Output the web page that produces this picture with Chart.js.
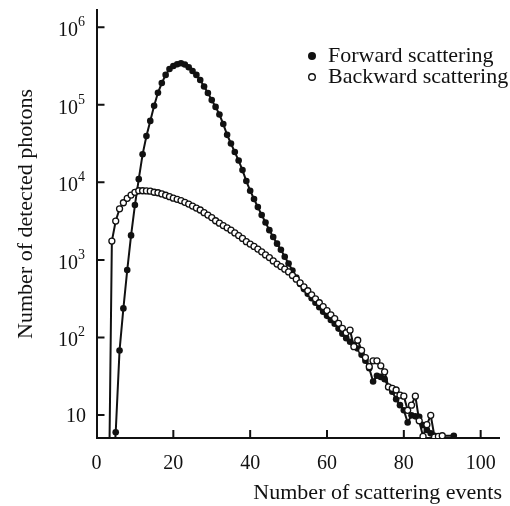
<!DOCTYPE html>
<html>
<head>
<meta charset="utf-8">
<title>Number of detected photons vs number of scattering events</title>
<script src="https://cdn.jsdelivr.net/npm/chart.js@4.4.1/dist/chart.umd.min.js"></script>
<style>
  html, body { margin: 0; padding: 0; background: #fff; }
  #chart { display: block; }
</style>
</head>
<body>
<canvas id="chart" width="510" height="506"></canvas>
<script>
// number of scattering events (x)
let events = [
  3, 4, 5, 6, 7, 8, 9, 10, 11, 12,
  13, 14, 15, 16, 17, 18, 19, 20, 21, 22,
  23, 24, 25, 26, 27, 28, 29, 30, 31, 32,
  33, 34, 35, 36, 37, 38, 39, 40, 41, 42,
  43, 44, 45, 46, 47, 48, 49, 50, 51, 52,
  53, 54, 55, 56, 57, 58, 59, 60, 61, 62,
  63, 64, 65, 66, 67, 68, 69, 70, 71, 72,
  73, 74, 75, 76, 77, 78, 79, 80, 81, 82,
  83, 84, 85, 86, 87, 88, 89, 90, 91, 92,
  93
];

// detected photons
let forwardCounts = [
  null, 1, 6, 68, 237, 740, 2070, 5100, 11000, 23000,
  39500, 62000, 97000, 143000, 191000, 243000, 290000, 317000, 334000, 343000,
  331000, 305000, 273000, 243000, 209000, 172000, 142000, 115000, 94000, 75000,
  56500, 41000, 31700, 24600, 19100, 14400, 10400, 7800, 6100, 4800,
  3800, 3030, 2420, 1970, 1620, 1350, 1100, 900, 730, 590,
  490, 420, 365, 320, 280, 245, 215, 190, 168, 150,
  130, 112, 98, 88, 80, 72, 60, 50, 40, 27,
  32, 31, 29, 23, 20, 16, 13.4, 11.5, 8, 9.9,
  9.6, 9.5, 7.4, 6.4, 5.8, 5.4, null, null, null, null,
  5.4
];

let backwardCounts = [
  0.1, 1750, 3170, 4560, 5460, 6220, 6860, 7430, 7800, 7800,
  7750, 7700, 7450, 7350, 7100, 6820, 6540, 6260, 6040, 5820,
  5530, 5250, 4950, 4660, 4400, 4070, 3780, 3510, 3200, 2980,
  2770, 2590, 2420, 2230, 2060, 1890, 1720, 1600, 1490, 1380,
  1270, 1160, 1070, 970, 883, 820, 760, 700, 630, 565,
  505, 450, 400, 355, 315, 280, 250, 222, 196, 175,
  152, 131, 115, 124, 76, 92, 68, 55, 42, 50,
  50, 43, 36, 23, 22, 21, 18, 17.5, 11.5, 13.4,
  17.5, 8.4, 5.3, 7.5, 9.9, 5.2, 5.3, 5.4, null, null,
  null
];

let seriesNames = ['Forward scattering', 'Backward scattering'];
let xTickValues = [0, 20, 40, 60, 80, 100];
let yTickValues = [10, 100, 1000, 10000, 100000, 1000000];
let yTickExponents = ['', '2', '3', '4', '5', '6'];
let xTitle = 'Number of scattering events';
let yTitle = 'Number of detected photons';

const INK = '#111';
const FONT = "'Liberation Serif', 'Times New Roman', serif";

// inward tick marks, power-of-ten labels, axis titles and the legend
const decorations = {
  id: 'decorations',
  afterDraw(chart) {
    const { ctx, chartArea: area, scales: { x, y } } = chart;
    ctx.save();

    ctx.strokeStyle = INK;
    ctx.lineWidth = 2;
    ctx.beginPath();
    for (let v of yTickValues) {
      const py = y.getPixelForValue(v);
      ctx.moveTo(area.left, py);
      ctx.lineTo(area.left + 8, py);
    }
    for (let v of xTickValues) {
      if (v === 0) continue;
      const px = x.getPixelForValue(v);
      ctx.moveTo(px, area.bottom);
      ctx.lineTo(px, area.bottom - 8);
    }
    ctx.stroke();

    ctx.fillStyle = INK;
    ctx.textBaseline = 'alphabetic';
    ctx.textAlign = 'right';
    yTickValues.forEach((v, i) => {
      const py = y.getPixelForValue(v);
      const exp = yTickExponents[i];
      if (!exp) {
        ctx.font = `20px ${FONT}`;
        ctx.fillText('10', 86, py + 7);
        return;
      }
      ctx.font = `14px ${FONT}`;
      const ew = ctx.measureText(exp).width;
      ctx.fillText(exp, 85, py - 1);
      ctx.font = `20px ${FONT}`;
      ctx.fillText('10', 85 - ew, py + 9);
    });

    // axis titles
    ctx.font = `22px ${FONT}`;
    ctx.textAlign = 'right';
    ctx.fillText(xTitle, 502, 499);
    ctx.save();
    ctx.translate(32, 214);
    ctx.rotate(-Math.PI / 2);
    ctx.textAlign = 'center';
    ctx.fillText(yTitle, 0, 0);
    ctx.restore();

    // legend
    ctx.textAlign = 'left';
    ctx.beginPath();
    ctx.arc(312, 56, 4, 0, Math.PI * 2);
    ctx.fill();
    ctx.fillText(seriesNames[0], 328, 62);
    ctx.beginPath();
    ctx.arc(312, 77, 3.3, 0, Math.PI * 2);
    ctx.fillStyle = '#fff';
    ctx.fill();
    ctx.lineWidth = 1.4;
    ctx.stroke();
    ctx.fillStyle = INK;
    ctx.fillText(seriesNames[1], 328, 83);

    ctx.restore();
  }
};

const chart = new Chart(document.getElementById('chart'), {
  type: 'line',
  data: {
    datasets: [
      {
        label: seriesNames[1],
        data: events.map((e, i) => ({ x: e, y: backwardCounts[i] })),
        borderColor: INK,
        borderWidth: 2,
        pointRadius: 3,
        pointBorderWidth: 1.3,
        pointBackgroundColor: '#fff',
        pointBorderColor: INK,
        spanGaps: true,
        tension: 0
      },
      {
        label: seriesNames[0],
        data: events.map((e, i) => ({ x: e, y: forwardCounts[i] })),
        borderColor: INK,
        borderWidth: 2,
        pointRadius: 3.3,
        pointBorderWidth: 0,
        pointBackgroundColor: INK,
        pointBorderColor: INK,
        spanGaps: true,
        tension: 0
      }
    ]
  },
  options: {
    responsive: false,
    animation: false,
    layout: { padding: { left: 0, right: 7, top: 10, bottom: 0 } },
    plugins: {
      legend: { display: false },
      tooltip: { enabled: false }
    },
    scales: {
      x: {
        type: 'linear',
        min: 0,
        max: 105,
        afterBuildTicks: s => { s.ticks = xTickValues.map(v => ({ value: v })); },
        afterFit: s => { s.height = 68; },
        grid: { display: false, drawTicks: false },
        border: { display: true, color: INK, width: 2 },
        ticks: { font: { family: FONT, size: 20 }, color: INK, padding: 14, maxRotation: 0 }
      },
      y: {
        type: 'logarithmic',
        min: 5.05,
        max: 1.67e6,
        afterBuildTicks: s => { s.ticks = yTickValues.map(v => ({ value: v })); },
        afterFit: s => { s.width = 96.5; },
        grid: { display: false, drawTicks: false },
        border: { display: true, color: INK, width: 2 },
        ticks: { display: false }
      }
    }
  },
  plugins: [decorations]
});
</script>
</body>
</html>
